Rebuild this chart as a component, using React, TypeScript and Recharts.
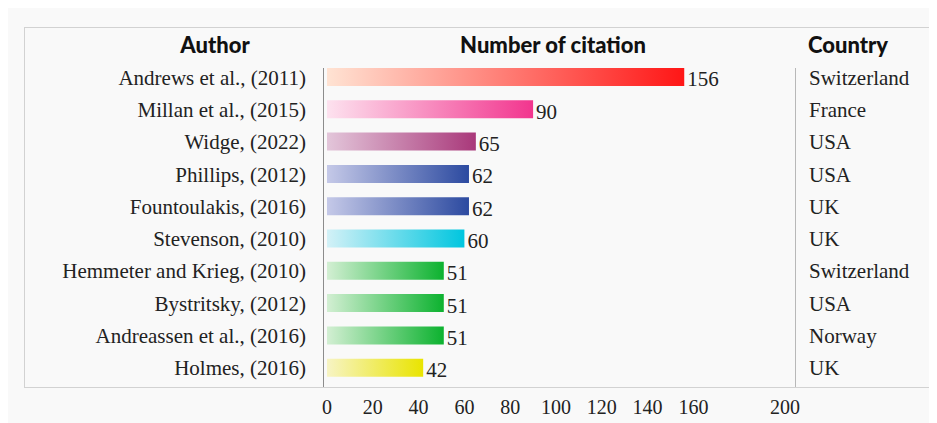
import React from 'react';
import { BarChart, Bar, XAxis, YAxis, Cell, LabelList } from 'recharts';

// data
const authors = [
  'Andrews et al., (2011)',
  'Millan et al., (2015)',
  'Widge, (2022)',
  'Phillips, (2012)',
  'Fountoulakis, (2016)',
  'Stevenson, (2010)',
  'Hemmeter and Krieg, (2010)',
  'Bystritsky, (2012)',
  'Andreassen et al., (2016)',
  'Holmes, (2016)',
];
const citations = [156, 90, 65, 62, 62, 60, 51, 51, 51, 42];
const countries = ['Switzerland', 'France', 'USA', 'USA', 'UK', 'UK', 'Switzerland', 'USA', 'Norway', 'UK'];
const xTicks = [0, 20, 40, 60, 80, 100, 120, 140, 160, 200];

// gradient stops per bar, light -> saturated
const gradients = [
  ['#ffe3d3', '#ff1616'],
  ['#fde2ef', '#f2358e'],
  ['#e3c6da', '#a9387a'],
  ['#c5c9e8', '#2c4aa0'],
  ['#c5c9e8', '#2c4aa0'],
  ['#d3f1f7', '#00c6df'],
  ['#d3efd3', '#0cb22f'],
  ['#d3efd3', '#0cb22f'],
  ['#d3efd3', '#0cb22f'],
  ['#f7f4c4', '#e9e400'],
];

const serif = '"Liberation Serif", "Times New Roman", serif';
const heading = 'Lato, "Open Sans", sans-serif';

export default function App() {
  const data = authors.map((author, i) => ({ author, value: citations[i] }));

  const headStyle: React.CSSProperties = {
    position: 'absolute',
    top: 24,
    fontFamily: heading,
    fontWeight: 900,
    fontSize: 22,
    lineHeight: '26px',
    color: '#111',
    transform: 'translateX(-50%)',
    whiteSpace: 'nowrap',
  };

  return (
    <div
      style={{
        position: 'relative',
        width: 929,
        height: 415,
        background: '#f9f9f9',
        fontFamily: serif,
      }}
    >
      {/* table frame */}
      <div
        style={{
          position: 'absolute',
          left: 16,
          top: 19,
          width: 911,
          height: 359,
          border: '1.5px solid #d2d2d2',
        }}
      />
      <div style={{ position: 'absolute', left: 315, top: 60, width: 1, height: 319, background: '#8c8c8c' }} />
      <div style={{ position: 'absolute', left: 787, top: 60, width: 1, height: 319, background: '#b8b8b8' }} />

      <div style={{ ...headStyle, left: 207 }}>Author</div>
      <div style={{ ...headStyle, left: 545 }}>Number of citation</div>
      <div style={{ ...headStyle, left: 840 }}>Country</div>

      <BarChart
        layout="vertical"
        width={929}
        height={415}
        data={data}
        margin={{ top: 53, right: 0, bottom: 0, left: 0 }}
        style={{ position: 'absolute', left: 0, top: 0, fontFamily: serif }}
      >
        <defs>
          {gradients.map((g, i) => (
            <linearGradient key={i} id={`grad${i}`} x1="0" y1="0" x2="1" y2="0">
              <stop offset="0%" stopColor={g[0]} />
              <stop offset="100%" stopColor={g[1]} />
            </linearGradient>
          ))}
        </defs>
        <XAxis
          type="number"
          domain={[0, 200]}
          ticks={xTicks}
          interval={0}
          height={39}
          axisLine={false}
          tickLine={false}
          tickSize={0}
          tickMargin={16}
          tick={{ fill: '#222', fontFamily: serif, fontSize: 20 }}
        />
        <YAxis
          yAxisId="left"
          type="category"
          dataKey="author"
          width={319}
          axisLine={false}
          tickLine={false}
          tickSize={0}
          tickMargin={21}
          interval={0}
          tick={{ fill: '#222', fontFamily: serif, fontSize: 21 }}
        />
        <YAxis
          yAxisId="right"
          orientation="right"
          type="category"
          dataKey="author"
          width={152}
          axisLine={false}
          tickLine={false}
          tickSize={0}
          tickMargin={24}
          interval={0}
          tickFormatter={(_v: string, i: number) => countries[i]}
          tick={{ fill: '#222', fontFamily: serif, fontSize: 21, textAnchor: 'start' }}
        />
        <Bar yAxisId="left" dataKey="value" barSize={18} isAnimationActive={false}>
          {data.map((_d, i) => (
            <Cell key={i} fill={`url(#grad${i})`} />
          ))}
          <LabelList
            dataKey="value"
            position="right"
            offset={3}
            fill="#222"
            fontFamily={serif}
            fontSize={21}
            dy={2}
          />
        </Bar>
      </BarChart>
    </div>
  );
}
